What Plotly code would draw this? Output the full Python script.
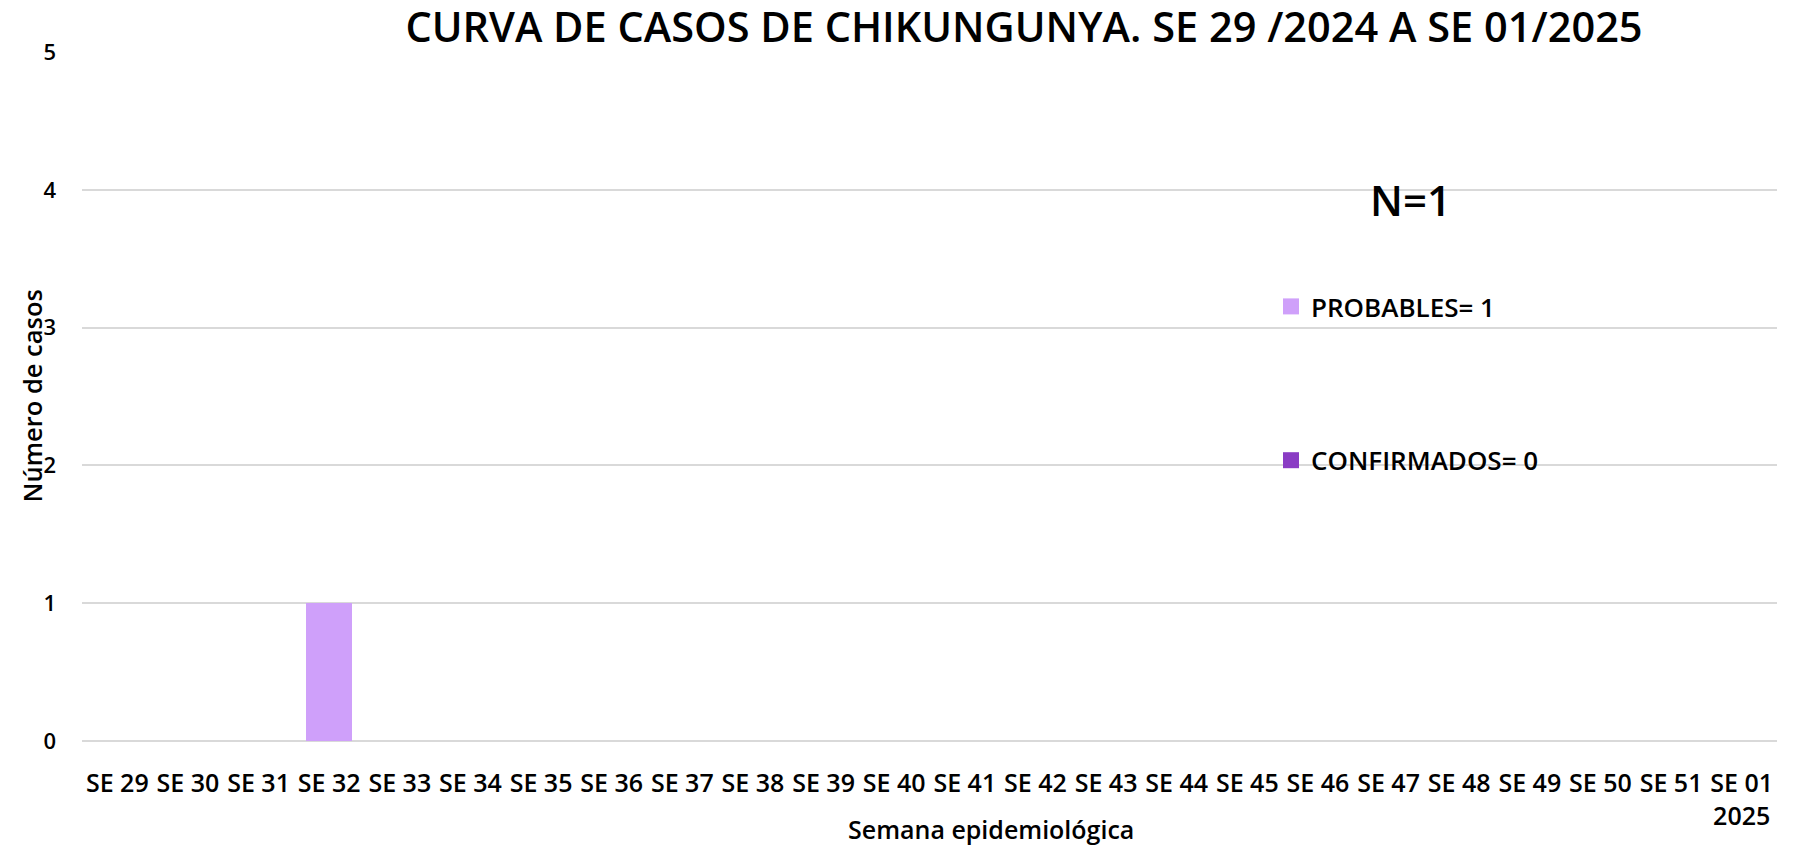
import plotly.graph_objects as go

semanas = ["SE 29", "SE 30", "SE 31", "SE 32", "SE 33", "SE 34", "SE 35", "SE 36",
           "SE 37", "SE 38", "SE 39", "SE 40", "SE 41", "SE 42", "SE 43", "SE 44",
           "SE 45", "SE 46", "SE 47", "SE 48", "SE 49", "SE 50", "SE 51", "SE 01<br>2025"]
probables = [0, 0, 0, 1, 0, 0, 0, 0, 0, 0, 0, 0, 0, 0, 0, 0, 0, 0, 0, 0, 0, 0, 0, 0]
confirmados = [0] * 24
y_ticks = [0, 1, 2, 3, 4, 5]

FONT = "Open Sans"
C_PROB = "#CFA0FA"
C_CONF = "#8A3CC4"

fig = go.Figure()
fig.add_trace(go.Bar(x=semanas, y=probables, name="PROBABLES= 1",
                     marker=dict(color=C_PROB, line=dict(width=0)),
                     showlegend=False))
fig.add_trace(go.Bar(x=semanas, y=confirmados, name="CONFIRMADOS= 0",
                     marker=dict(color=C_CONF, line=dict(width=0)),
                     showlegend=False))
# legend entries (square swatches)
fig.add_trace(go.Scatter(x=[None], y=[None], mode="markers", name="PROBABLES= 1",
                         marker=dict(symbol="square", size=17, color=C_PROB),
                         legendgroup="p", showlegend=True))
fig.add_trace(go.Scatter(x=[None], y=[None], mode="markers", name="CONFIRMADOS= 0",
                         marker=dict(symbol="square", size=17, color=C_CONF),
                         legendgroup="c", showlegend=True))

# page adds an 8px body margin, so figure coordinates are the screen's minus 8
W, H = 1780, 838
L, R, T, B = 74, 11, 44, 105
PW, PH = W - L - R, H - T - B
Y0 = H - B  # pixel row of y=0

fig.update_layout(
    width=W, height=H,
    margin=dict(l=L, r=R, t=T, b=B),
    paper_bgcolor="white", plot_bgcolor="white",
    barmode="stack", bargap=0.35,
    font=dict(family=FONT, color="#000000"),
    title=dict(text="CURVA DE CASOS DE CHIKUNGUNYA. SE 29 /2024 A SE 01/2025",
               x=1016 / W, xanchor="center", y=1 - 19 / H, yanchor="middle",
               font=dict(size=41.5, family=FONT, weight=600, color="#000000")),
    xaxis=dict(showgrid=False, showline=False, ticks="", tickangle=0,
               tickfont=dict(size=25, family=FONT, weight=600),
               ticklabelstandoff=25, range=[-0.5, 23.5], automargin=False),
    yaxis=dict(range=[0, 5], tickvals=y_ticks, showgrid=True, gridcolor="#d9d9d9",
               gridwidth=1.5, zeroline=True, zerolinecolor="#d9d9d9", zerolinewidth=1.5,
               showline=False, ticks="", automargin=False,
               tickfont=dict(size=22, family=FONT, weight=600),
               ticklabelstandoff=25),
    legend=dict(x=(1263 - L) / PW, y=(Y0 - 275) / PH, xanchor="left", yanchor="top",
                font=dict(size=26, family=FONT, weight=600),
                tracegroupgap=117, bgcolor="rgba(0,0,0,0)", itemclick=False,
                itemsizing="trace"),
    annotations=[
        dict(text="N=1", xref="paper", yref="paper",
             x=(1402 - L) / PW, y=(Y0 - 191) / PH, xanchor="center", yanchor="middle",
             showarrow=False, font=dict(size=42, family=FONT, weight=600)),
        dict(text="Número de casos", xref="paper", yref="paper",
             x=(23 - L) / PW, y=0.5, xanchor="center", yanchor="middle",
             textangle=-90, showarrow=False, font=dict(size=25.5, family=FONT, weight=600)),
        dict(text="Semana epidemiológica", xref="paper", yref="paper",
             x=(983 - L) / PW, y=(Y0 - 821) / PH, xanchor="center", yanchor="middle",
             showarrow=False, font=dict(size=25, family=FONT, weight=600)),
    ],
)

fig.write_html("out.html")
